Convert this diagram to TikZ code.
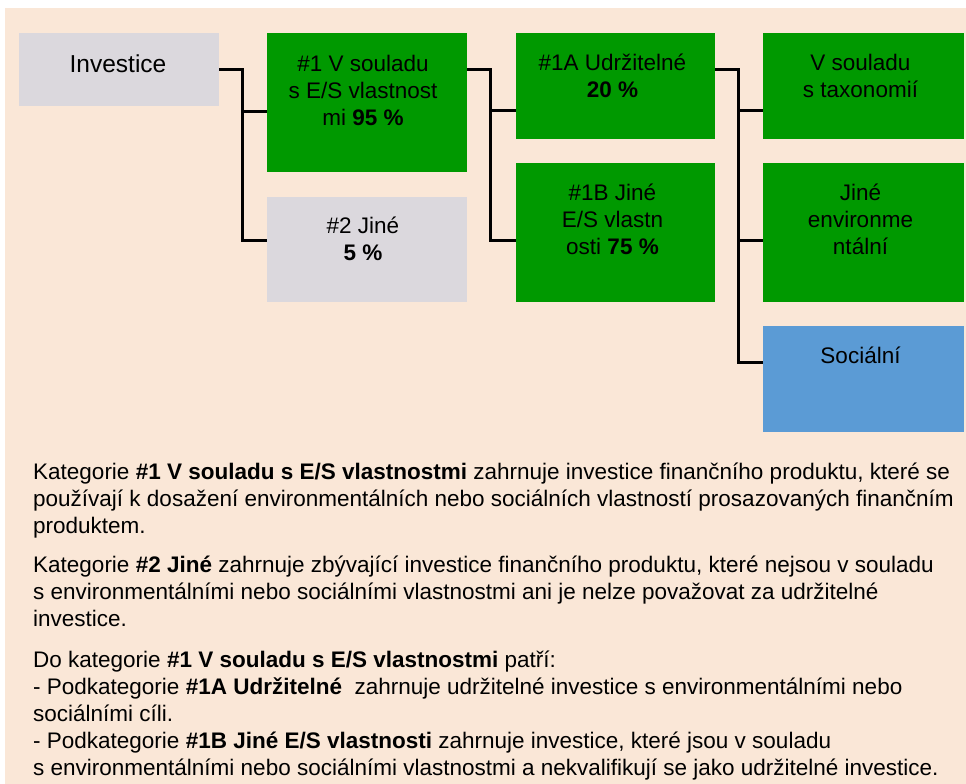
\documentclass[tikz,border=0pt]{standalone}
\usepackage{fontspec}
\setmainfont{Liberation Sans}
\usetikzlibrary{calc}
\definecolor{peach}{RGB}{250,231,215}
\definecolor{boxgray}{RGB}{219,216,221}
\definecolor{boxgreen}{RGB}{0,153,0}
\definecolor{boxblue}{RGB}{91,155,213}
\begin{document}
\begin{tikzpicture}[x=1pt,y=-1pt,
  box/.style={rectangle, inner sep=0pt, outer sep=0pt, draw=none},
  graybox/.style={box, fill=boxgray},
  greenbox/.style={box, fill=boxgreen},
  bluebox/.style={box, fill=boxblue},
  lbl/.style={inner sep=0pt, align=center, font=\fontsize{22.5}{27}\selectfont, anchor=base},
  bodytext/.style={inner sep=0pt, align=left, font=\fontsize{22.5}{27}\selectfont, anchor=base west},
  conn/.style={line width=3pt, black}]
\useasboundingbox (0,0) rectangle (966,784);
\fill[white] (0,0) rectangle (966,784);
\fill[peach] (5,8) rectangle (966,784);

% boxes
\node[graybox, minimum width=200pt, minimum height=73pt] (inv) at (119,69.5) {};
\node[greenbox, minimum width=200pt, minimum height=139pt] (n1) at (367,102.5) {};
\node[graybox, minimum width=200pt, minimum height=105pt] (n2) at (367,249.5) {};
\node[greenbox, minimum width=199pt, minimum height=106pt] (n1a) at (615.5,86) {};
\node[greenbox, minimum width=199pt, minimum height=139pt] (n1b) at (615.5,232.5) {};
\node[greenbox, minimum width=201pt, minimum height=106pt] (tax) at (863.5,86) {};
\node[greenbox, minimum width=201pt, minimum height=139pt] (env) at (863.5,232.5) {};
\node[bluebox, minimum width=201pt, minimum height=106pt] (soc) at (863.5,379) {};

% box texts (anchor = baseline of the last line)
\node[lbl, font=\fontsize{24.5}{29}\selectfont] (tinv) at ($(inv.north)+(-1,40)$) {Investice};
\node[lbl] (tn1) at ($(n1.north)+(-4,92)$) {\#1 V souladu\\s E/S vlastnost\\mi \textbf{95 \%}};
\node[lbl] (tn2) at ($(n2.north)+(-4,63)$) {\#2 Jiné\\\textbf{5 \%}};
\node[lbl] (tn1a) at ($(n1a.north)+(-3,64)$) {\#1A Udržitelné\\\textbf{20 \%}};
\node[lbl] (tn1b) at ($(n1b.north)+(-3,91)$) {\#1B Jiné\\E/S vlastn\\osti \textbf{75 \%}};
\node[lbl] (ttax) at ($(tax.north)+(-3,64)$) {V souladu\\s taxonomií};
\node[lbl] (tenv) at ($(env.north)+(-3,91)$) {Jiné\\environme\\ntální};
\node[lbl] (tsoc) at ($(soc.north)+(-3,37)$) {Sociální};

% connectors
\coordinate (j1) at ($(inv.east)+(23,0)$);
\coordinate (n1in) at ($(n1.west)+(0,8.5)$);
\coordinate (n2in) at ($(n2.west)+(0,-9.5)$);
\draw[conn] (inv.east) -- (j1) |- (n2in);
\draw[conn] (j1 |- n1in) -- (n1in);

\coordinate (n1out) at ($(n1.north east)+(0,37)$);
\coordinate (j2) at ($(n1out)+(23,0)$);
\coordinate (n1ain) at ($(n1a.west)+(0,24)$);
\coordinate (n1bin) at ($(n1b.west)+(0,7.5)$);
\draw[conn] (n1out) -- (j2) |- (n1bin);
\draw[conn] (j2 |- n1ain) -- (n1ain);

\coordinate (n1aout) at ($(n1a.north east)+(0,37)$);
\coordinate (j3) at ($(n1aout)+(23,0)$);
\coordinate (taxin) at ($(tax.west)+(0,24)$);
\coordinate (envin) at ($(env.west)+(0,7.5)$);
\coordinate (socin) at ($(soc.west)+(0,-17)$);
\draw[conn] (n1aout) -- (j3) |- (socin);
\draw[conn] (j3 |- taxin) -- (taxin);
\draw[conn] (j3 |- envin) -- (envin);

% explanatory text (anchor = baseline of the last line)
\node[bodytext] (p1) at (33,533) {Kategorie \textbf{\#1 V souladu s E/S vlastnostmi} zahrnuje investice finančního produktu, které se\\používají k dosažení environmentálních nebo sociálních vlastností prosazovaných finančním\\produktem.};
\node[bodytext] (p2) at (33,626) {Kategorie \textbf{\#2 Jiné} zahrnuje zbývající investice finančního produktu, které nejsou v souladu\\s environmentálními nebo sociálními vlastnostmi ani je nelze považovat za udržitelné\\investice.};
\node[bodytext] (p3) at (33,775) {Do kategorie \textbf{\#1 V souladu s E/S vlastnostmi} patří:\\- Podkategorie \textbf{\#1A Udržitelné} \ zahrnuje udržitelné investice s environmentálními nebo\\sociálními cíli.\\- Podkategorie \textbf{\#1B Jiné E/S vlastnosti} zahrnuje investice, které jsou v souladu\\s environmentálními nebo sociálními vlastnostmi a nekvalifikují se jako udržitelné investice.};
\end{tikzpicture}
\end{document}
